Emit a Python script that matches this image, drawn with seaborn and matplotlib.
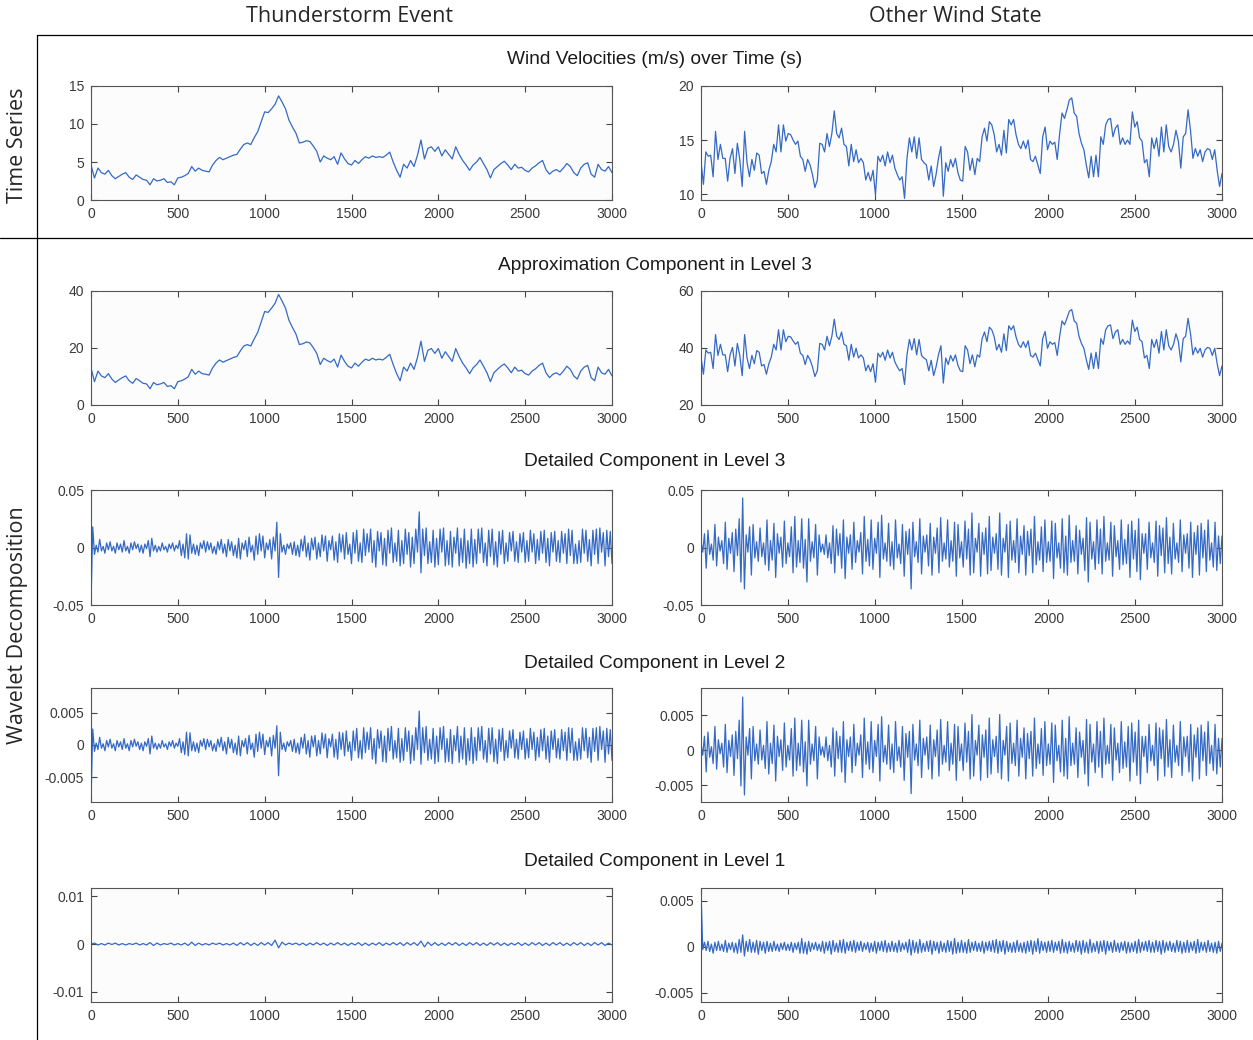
import numpy as np
import pandas as pd
import matplotlib
matplotlib.use("Agg")
import matplotlib.pyplot as plt
import seaborn as sns
from matplotlib.lines import Line2D

# ---------------- data ----------------
col_titles = ["Thunderstorm Event", "Other Wind State"]
row_titles = ["Wind Velocities (m/s) over Time (s)",
              "Approximation Component in Level 3",
              "Detailed Component in Level 3",
              "Detailed Component in Level 2",
              "Detailed Component in Level 1"]
x_ticks = [0, 500, 1000, 1500, 2000, 2500, 3000]

# wind velocity, thunderstorm (every 20 s)
ts_storm = [4.6, 2.9, 4.2, 3.6, 3.4, 3.9, 3.2, 2.8, 3.1, 3.4,
            3.6, 3.0, 2.7, 3.3, 3.0, 2.7, 2.6, 2.0, 2.8, 2.5,
            2.6, 2.8, 2.3, 2.4, 2.0, 2.9, 3.0, 3.2, 3.5, 4.4,
            3.8, 4.2, 3.9, 3.8, 3.7, 4.6, 5.2, 5.6, 5.3, 5.5,
            5.7, 5.9, 6.0, 6.7, 7.3, 7.5, 7.3, 8.2, 9.0, 10.3,
            11.6, 11.5, 12.0, 12.6, 13.7, 12.9, 12.0, 10.5, 9.6, 8.8,
            7.5, 7.6, 7.8, 7.7, 7.1, 6.4, 5.0, 5.8, 5.5, 5.3,
            5.7, 4.7, 6.2, 5.4, 4.8, 4.6, 5.2, 4.8, 5.3, 5.7,
            5.5, 5.8, 5.6, 5.7, 5.6, 5.9, 6.3, 5.0, 3.9, 3.0,
            4.7, 4.2, 5.2, 4.4, 5.9, 7.9, 5.4, 6.8, 7.0, 6.4,
            7.0, 5.8, 6.6, 6.0, 5.4, 7.0, 6.0, 5.2, 4.6, 3.9,
            4.6, 5.0, 5.6, 4.8, 4.0, 2.9, 4.0, 4.4, 4.8, 5.1,
            4.6, 4.0, 4.7, 4.2, 4.3, 3.9, 3.7, 4.2, 4.5, 4.9,
            5.2, 4.0, 3.4, 3.8, 4.0, 3.7, 4.2, 4.8, 4.4, 3.6,
            3.2, 4.2, 4.7, 4.9, 3.4, 3.0, 4.7, 4.0, 3.8, 4.4,
            3.6]

# wind velocity, other wind state (about every 14 s)
ts_other = [13.0, 10.9, 13.9, 13.5, 13.6, 11.6, 15.8, 13.2, 14.6, 13.3,
            13.3, 11.2, 13.3, 14.2, 11.9, 14.7, 13.2, 10.7, 15.8, 12.9,
            11.6, 13.2, 12.2, 13.8, 13.6, 11.9, 12.1, 10.9, 12.2, 13.0, 14.6,
            13.9, 16.4, 13.9, 16.4, 14.9, 15.6, 15.5, 15.0, 14.6, 14.9,
            13.5, 13.2, 12.1, 13.2, 12.7, 11.8, 10.6, 11.3, 14.7, 14.6,
            13.9, 15.6, 14.4, 15.6, 17.7, 15.6, 15.2, 16.1, 14.6, 14.4,
            12.6, 14.6, 13.0, 14.1, 12.9, 13.3, 12.9, 11.3, 12.0, 11.2, 12.2,
            9.9, 13.5, 13.0, 13.6, 12.6, 13.9, 12.9, 13.6, 12.4, 11.8,
            11.3, 11.6, 9.6, 13.3, 15.2, 13.9, 15.3, 13.3, 15.2, 13.2,
            12.9, 12.7, 11.3, 12.6, 10.7, 11.8, 13.3, 14.4, 9.8, 12.9,
            12.1, 13.2, 12.5, 13.3, 12.0, 11.3,
            11.2, 14.4, 13.9, 12.2, 13.3, 11.8, 13.3, 13.0, 15.3, 16.1,
            14.9, 16.7, 16.4, 15.5, 13.9, 14.6, 13.6, 15.9, 13.8, 16.9,
            16.4, 16.9, 15.5, 14.6, 14.2, 14.9, 14.2, 15.0, 13.2,
            13.0, 13.5, 12.7, 11.9, 15.3, 16.2, 14.1, 14.9, 14.6, 14.8,
            13.2, 15.6, 17.5, 17.0, 17.8, 18.7, 18.9, 17.5, 17.2, 15.6,
            14.7, 14.1, 12.7, 11.5, 13.5, 11.6, 13.6, 11.6, 15.3, 14.6,
            16.4, 16.9, 17.0, 15.3, 16.1, 16.4, 14.6, 15.2, 14.6,
            15.0, 14.6, 17.6, 16.2, 16.7, 15.2, 14.9, 12.9, 13.2, 11.6,
            15.2, 14.2, 15.2, 13.5, 16.2, 13.9, 16.4, 14.4, 13.9, 14.6,
            15.9, 14.9, 12.4, 15.3, 15.6, 17.8, 15.9, 13.3, 14.2,
            13.5, 14.1, 13.0, 13.9, 14.2, 14.1, 13.2, 14.1, 12.2,
            10.7, 11.9]

# approximation component, level 3
approx_storm = [13.0, 8.2, 11.9, 10.2, 9.6, 11.0, 9.1, 7.9, 8.8, 9.6,
                10.2, 8.5, 7.6, 9.3, 8.5, 7.6, 7.4, 5.7, 7.9, 7.1,
                7.4, 7.9, 6.5, 6.8, 5.7, 8.2, 8.5, 9.1, 9.9, 12.5,
                10.8, 11.9, 11.0, 10.8, 10.5, 13.0, 14.7, 15.8, 15.0, 15.6,
                16.1, 16.7, 17.0, 19.0, 20.7, 21.2, 20.7, 23.2, 25.5, 29.1,
                32.8, 32.5, 34.0, 35.7, 38.8, 36.5, 34.0, 29.7, 27.2, 24.9,
                21.2, 21.5, 22.1, 21.8, 20.1, 18.1, 14.2, 16.4, 15.6, 15.0,
                16.1, 13.3, 17.5, 15.3, 13.6, 13.0, 14.7, 13.6, 15.0, 16.1,
                15.6, 16.4, 15.8, 16.1, 15.8, 16.7, 17.8, 14.2, 11.0, 8.5,
                13.3, 11.9, 14.7, 12.5, 16.7, 22.4, 15.3, 19.2, 19.8, 18.1,
                19.8, 16.4, 18.7, 17.0, 15.3, 19.8, 17.0, 14.7, 13.0, 11.0,
                13.0, 14.2, 15.8, 13.6, 11.3, 8.2, 11.3, 12.5, 13.6, 14.4,
                13.0, 11.3, 13.3, 11.9, 12.2, 11.0, 10.5, 11.9, 12.7, 13.9,
                14.7, 11.3, 9.6, 10.8, 11.3, 10.5, 11.9, 13.6, 12.5, 10.2,
                9.1, 11.9, 13.3, 13.9, 9.6, 8.5, 13.3, 11.3, 10.8, 12.5,
                10.2]

approx_other = [36.8, 30.8, 39.3, 38.2, 38.5, 32.8, 44.7, 37.4, 41.3, 37.6,
                37.6, 31.7, 37.6, 40.2, 33.7, 41.6, 37.4, 30.3, 44.7, 36.5,
                32.8, 37.4, 34.5, 39.1, 38.5, 33.7, 34.2, 30.8, 34.5, 36.8, 41.3,
                39.3, 46.4, 39.3, 46.4, 42.2, 44.1, 43.9, 42.5, 41.3, 42.2,
                38.2, 37.4, 34.2, 37.4, 35.9, 33.4, 30.0, 32.0, 41.6, 41.3,
                39.3, 44.1, 40.8, 44.1, 50.1, 44.1, 43.0, 45.6, 41.3, 40.8,
                35.7, 41.3, 36.8, 39.9, 36.5, 37.6, 36.5, 32.0, 34.0, 31.7, 34.5,
                28.0, 38.2, 36.8, 38.5, 35.7, 39.3, 36.5, 38.5, 35.1, 33.4,
                32.0, 32.8, 27.2, 37.6, 43.0, 39.3, 43.3, 37.6, 43.0, 37.4,
                36.5, 35.9, 32.0, 35.7, 30.3, 33.4, 37.6, 40.8, 27.7, 36.5,
                34.2, 37.4, 35.4, 37.6, 34.0, 32.0,
                31.7, 40.8, 39.3, 34.5, 37.6, 33.4, 37.6, 36.8, 43.3, 45.6,
                42.2, 47.3, 46.4, 43.9, 39.3, 41.3, 38.5, 45.0, 39.1, 47.8,
                46.4, 47.8, 43.9, 41.3, 40.2, 42.2, 40.2, 42.5, 37.4,
                36.8, 38.2, 35.9, 33.7, 43.3, 45.8, 39.9, 42.2, 41.3, 41.9,
                37.4, 44.1, 49.5, 48.1, 50.4, 52.9, 53.5, 49.5, 48.7, 44.1,
                41.6, 39.9, 35.9, 32.5, 38.2, 32.8, 38.5, 32.8, 43.3, 41.3,
                46.4, 47.8, 48.1, 43.3, 45.6, 46.4, 41.3, 43.0, 41.3,
                42.5, 41.3, 49.8, 45.8, 47.3, 43.0, 42.2, 36.5, 37.4, 32.8,
                43.0, 40.2, 43.0, 38.2, 45.8, 39.3, 46.4, 40.8, 39.3, 41.3,
                45.0, 42.2, 35.1, 43.3, 44.1, 50.4, 45.0, 37.6, 40.2,
                38.2, 39.9, 36.8, 39.3, 40.2, 39.9, 37.4, 39.9, 34.5,
                30.3, 33.7]

# detailed component, level 3 (every 10 s)
d3_storm = [-.05, .018, -.006, .002, -.004, .007, -.003, .001, -.005, .004,
            -.002, .005, -.003, .001, -.005, .004, -.002, .003, -.004, .006,
            -.003, .001, -.005, .004, -.002, .005, -.001, .003, -.004, .002,
            -.005, .003, -.001, .006, -.008, .008, -.003, .002, -.004, .001,
            -.003, .004, -.002, .001, -.004, .003, -.001, .004, -.003, .002,
            -.001, .006, -.007, .003, -.009, .012, -.01, .011, -.005, .003,
            -.006, .002, -.007, .004, -.001, .006, -.004, .005, -.002, .004,
            -.005, .001, -.006, .005, -.002, .007, -.005, .003, -.008, .007,
            -.003, .005, -.007, .002, -.009, .008, -.01, .004, -.002, .006,
            -.008, .009, -.004, .002, -.011, .01, -.006, .012, -.003, .01,
            -.009, .004, -.002, .007, -.01, .009, -.003, .022, -.026, .012,
            -.004, .002, -.006, .003, -.001, .004, -.006, .005, -.007, .002,
            -.008, .007, -.003, .01, -.008, .004, -.011, .008, -.002, .009,
            -.01, .004, -.008, .011, -.003, .01, -.012, .006, -.002, .01,
            -.011, .005, -.013, .012, -.004, .011, -.01, .013, -.006, .003,
            -.014, .013, -.005, .015, -.012, .004, -.013, .016, -.007, .012,
            -.004, .016, -.013, .006, -.017, .014, -.003, .013, -.015, .008,
            -.016, .015, -.005, .017, -.013, .004, -.012, .015, -.016, .006,
            -.014, .016, -.006, .013, -.017, .009, -.014, .016, -.004, .031,
            -.022, .016, -.007, .017, -.014, .005, -.013, .015, -.017, .008,
            -.015, .016, -.004, .017, -.016, .006, -.015, .014, -.017, .009,
            -.005, .017, -.016, .008, -.013, .016, -.018, .006, -.014, .016,
            -.017, .007, -.014, .016, -.005, .017, -.013, .004, -.016, .015,
            -.008, .016, -.015, .005, -.017, .014, -.006, .015, -.014, .004,
            -.012, .013, -.003, .014, -.012, .005, -.013, .012, -.004, .013,
            -.013, .006, -.012, .015, -.004, .012, -.014, .007, -.011, .014,
            -.005, .015, -.013, .008, -.016, .013, -.004, .014, -.012, .006,
            -.013, .014, -.005, .012, -.014, .016, -.007, .015, -.014, .003,
            -.014, .006, -.013, .016, -.005, .015, -.012, .007, -.016, .015,
            -.006, .016, -.014, .017, -.004, .013, -.016, .015, -.008, .014,
            -.014]

d3_other = [.005, -.004, .012, -.018, .015, -.006, .003, -.011, .02, -.016,
            .009, -.003, .006, -.014, .022, -.019, .008, -.005, .013, -.021,
            .016, -.007, .025, -.03, .043, -.036, .011, -.004, .018, -.024,
            .02, -.009, .005, -.012, .017, -.008, .004, -.015, .024, -.02,
            .006, -.011, .021, -.026, .012, -.005, .009, -.017, .023, -.014,
            .004, -.008, .018, -.022, .027, -.017, .006, -.013, .025, -.018,
            .007, -.03, .025, -.012, .005, -.009, .02, -.024, .011, -.004,
            .003, -.006, .011, -.009, .004, -.014, .019, -.022, .016, -.007,
            .012, -.018, .024, -.027, .009, -.005, .011, -.019, .022, -.013,
            .006, -.004, .013, -.023, .027, -.012, .007, -.016, .024, -.019,
            .008, -.005, .022, -.026, .028, -.01, .004, -.012, .021, -.016,
            .005, -.019, .024, -.009, .003, -.014, .02, -.025, .014, -.006,
            .016, -.036, .022, -.008, .005, -.013, .025, -.023, .01, -.004,
            .011, -.016, .021, -.024, .009, -.005, .017, -.022, .026, -.012,
            .004, -.01, .024, -.017, .006, -.012, .022, -.025, .02, -.009,
            .005, -.017, .023, -.01, .016, -.024, .03, -.022, .008, -.004,
            .021, -.025, .013, -.006, .017, -.023, .027, -.02, .009, -.005,
            .012, -.019, .03, -.024, .008, -.004, .02, -.026, .023, -.011,
            .006, -.013, .025, -.022, .01, -.006, .019, -.024, .014, -.007,
            .016, -.022, .027, -.015, .005, -.011, .018, -.021, .024, -.013,
            .005, -.012, .023, -.027, .021, -.009, .004, -.018, .025, -.022,
            .01, -.024, .028, -.013, .006, -.012, .019, -.023, .015, -.006,
            .008, -.02, .026, -.03, .022, -.01, .005, -.019, .024, -.014,
            .016, -.023, .027, -.012, .004, -.011, .022, -.025, .019, -.008,
            .006, -.019, .024, -.015, .007, -.014, .02, -.026, .023, -.01,
            .015, -.021, .025, -.028, .012, -.005, .012, -.019, .022, -.009,
            .004, -.013, .023, -.025, .019, -.007, .017, -.022, .026, -.014,
            .009, -.023, .021, -.01, .004, -.013, .024, -.021, .011, -.005,
            .012, -.018, .022, -.026, .013, -.006, .019, -.024, .021, -.009,
            .015, -.021, .024, -.011, .004, -.017, .022, -.02, .01, -.014,
            .01]

# detailed component, level 2 (every 10 s)
d2_storm = [-.0089, .0025, -.001, .0003, -.0007, .0012, -.0005, .0002, -.0009, .0007,
            -.0003, .0009, -.0005, .0002, -.0009, .0007, -.0003, .0005, -.0007, .001,
            -.0005, .0002, -.0009, .0007, -.0003, .0009, -.0002, .0005, -.0007, .0003,
            -.0009, .0005, -.0002, .001, -.0014, .0014, -.0005, .0003, -.0007, .0002,
            -.0005, .0007, -.0003, .0002, -.0007, .0005, -.0002, .0007, -.0005, .0003,
            -.0002, .001, -.0012, .0005, -.0015, .002, -.0017, .0019, -.0009, .0005,
            -.001, .0003, -.0012, .0007, -.0002, .001, -.0007, .0009, -.0003, .0007,
            -.0009, .0002, -.001, .0009, -.0003, .0012, -.0009, .0005, -.0014, .0012,
            -.0005, .0009, -.0012, .0003, -.0015, .0014, -.0017, .0007, -.0003, .001,
            -.0014, .0015, -.0007, .0003, -.0019, .0017, -.001, .002, -.0005, .0017,
            -.0015, .0007, -.0003, .0012, -.0017, .0015, -.0005, .003, -.0048, .002,
            -.0007, .0003, -.001, .0005, -.0002, .0007, -.001, .0009, -.0012, .0003,
            -.0014, .0012, -.0005, .0017, -.0014, .0007, -.0019, .0014, -.0003, .0015,
            -.0017, .0007, -.0014, .0019, -.0005, .0017, -.002, .001, -.0003, .0017,
            -.0019, .0009, -.0022, .002, -.0007, .0019, -.0017, .0022, -.001, .0005,
            -.0024, .0022, -.0009, .0026, -.002, .0007, -.0022, .0027, -.0012, .002,
            -.0007, .0027, -.0022, .001, -.0029, .0024, -.0005, .0022, -.0026, .0014,
            -.0027, .0026, -.0009, .0029, -.0022, .0007, -.002, .0026, -.0027, .001,
            -.0024, .0027, -.001, .0022, -.0029, .0015, -.0024, .0027, -.0007, .0053,
            -.003, .0027, -.0012, .0029, -.0024, .0009, -.0022, .0026, -.0029, .0014,
            -.0026, .0027, -.0007, .0029, -.0027, .001, -.0026, .0024, -.0029, .0015,
            -.0009, .0029, -.0027, .0014, -.0022, .0027, -.0031, .001, -.0024, .0027,
            -.0029, .0012, -.0024, .0027, -.0009, .0029, -.0022, .0007, -.0027, .0026,
            -.0014, .0027, -.0026, .0009, -.0029, .0024, -.001, .0026, -.0024, .0007,
            -.002, .0022, -.0005, .0024, -.002, .0009, -.0022, .002, -.0007, .0022,
            -.0022, .001, -.002, .0026, -.0007, .002, -.0024, .0012, -.0019, .0024,
            -.0009, .0026, -.0022, .0014, -.0027, .0022, -.0007, .0024, -.002, .001,
            -.0022, .0024, -.0009, .002, -.0024, .0027, -.0012, .0026, -.0024, .0005,
            -.0024, .001, -.0022, .0027, -.0009, .0026, -.002, .0012, -.0027, .0026,
            -.001, .0027, -.0024, .0029, -.0007, .0022, -.0027, .0026, -.0014, .0024,
            -.0024]

d2_other = [.0009, -.0007, .002, -.0031, .0026, -.001, .0005, -.0019, .0034, -.0027,
            .0015, -.0005, .001, -.0024, .0037, -.0032, .0014, -.0009, .0022, -.0036,
            .0027, -.0012, .0043, -.0051, .0076, -.0064, .0019, -.0007, .0031, -.0041,
            .0034, -.0015, .0009, -.002, .0029, -.0014, .0007, -.0026, .0041, -.0034,
            .001, -.0019, .0036, -.0044, .002, -.0009, .0015, -.0029, .0039, -.0024,
            .0007, -.0014, .0031, -.0037, .0046, -.0029, .001, -.0022, .0043, -.0031,
            .0012, -.0051, .0043, -.002, .0009, -.0015, .0034, -.0041, .0019, -.0007,
            .0005, -.001, .0019, -.0015, .0007, -.0024, .0032, -.0037, .0027, -.0012,
            .002, -.0031, .0041, -.0046, .0015, -.0009, .0019, -.0032, .0037, -.0022,
            .001, -.0007, .0022, -.0039, .0046, -.002, .0012, -.0027, .0041, -.0032,
            .0014, -.0009, .0037, -.0044, .0048, -.0017, .0007, -.002, .0036, -.0027,
            .0009, -.0032, .0041, -.0015, .0005, -.0024, .0034, -.0043, .0024, -.001,
            .0027, -.0062, .0037, -.0014, .0009, -.0022, .0043, -.0039, .0017, -.0007,
            .0019, -.0027, .0036, -.0041, .0015, -.0009, .0029, -.0037, .0044, -.002,
            .0007, -.0017, .0041, -.0029, .001, -.002, .0037, -.0043, .0034, -.0015,
            .0009, -.0029, .0039, -.0017, .0027, -.0041, .0051, -.0037, .0014, -.0007,
            .0036, -.0043, .0022, -.001, .0029, -.0039, .0046, -.0034, .0015, -.0009,
            .002, -.0032, .0051, -.0041, .0014, -.0007, .0034, -.0044, .0039, -.0019,
            .001, -.0022, .0043, -.0037, .0017, -.001, .0032, -.0041, .0024, -.0012,
            .0027, -.0037, .0046, -.0026, .0009, -.0019, .0031, -.0036, .0041, -.0022,
            .0009, -.002, .0039, -.0046, .0036, -.0015, .0007, -.0031, .0043, -.0037,
            .0017, -.0041, .0048, -.0022, .001, -.002, .0032, -.0039, .0026, -.001,
            .0014, -.0034, .0044, -.0051, .0037, -.0017, .0009, -.0032, .0041, -.0024,
            .0027, -.0039, .0046, -.002, .0007, -.0019, .0037, -.0043, .0032, -.0014,
            .001, -.0032, .0041, -.0026, .0012, -.0024, .0034, -.0044, .0039, -.0017,
            .0026, -.0036, .0043, -.0048, .002, -.0009, .002, -.0032, .0037, -.0015,
            .0007, -.0022, .0039, -.0043, .0032, -.0012, .0029, -.0037, .0044, -.0024,
            .0015, -.0039, .0036, -.0017, .0007, -.0022, .0041, -.0036, .0019, -.0009,
            .002, -.0031, .0037, -.0044, .0022, -.001, .0032, -.0041, .0036, -.0015,
            .0026, -.0036, .0041, -.0019, .0007, -.0029, .0037, -.0034, .0017, -.0024,
            .0017]

# detailed component, level 1
d1_storm = [0, .0002, -.0002, .0001, -.0002, .0002, -.0001, .0002, -.0002, .0001,
            -.0002, .0001, -.0001, .0002, -.0002, .0001, -.0002, .0003, -.0003, .0002,
            -.0002, .0001, -.0001, .0002, -.0002, .0001, -.0002, .0002, -.0003, .0004,
            -.0003, .0002, -.0002, .0001, -.0002, .0002, -.0001, .0002, -.0002, .0001,
            -.0002, .0002, -.0003, .0003, -.0002, .0003, -.0003, .0002, -.0003, .0003,
            -.0002, .0003, -.0003, .0008, -.0008, .0004, -.0002, .0002, -.0001, .0002,
            -.0002, .0002, -.0003, .0002, -.0002, .0003, -.0002, .0002, -.0003, .0002,
            -.0002, .0003, -.0002, .0002, -.0003, .0002, -.0002, .0003, -.0003, .0002,
            -.0003, .0002, -.0002, .0003, -.0003, .0002, -.0002, .0003, -.0002, .0003,
            -.0003, .0003, -.0002, .0003, -.0003, .0006, -.0006, .0004, -.0003, .0003,
            -.0003, .0002, -.0003, .0003, -.0002, .0003, -.0003, .0002, -.0003, .0003,
            -.0002, .0003, -.0003, .0002, -.0003, .0003, -.0002, .0003, -.0003, .0002,
            -.0003, .0002, -.0002, .0003, -.0003, .0002, -.0003, .0003, -.0002, .0003,
            -.0003, .0002, -.0003, .0003, -.0002, .0003, -.0003, .0002, -.0003, .0003,
            -.0002, .0003, -.0003, .0002, -.0003, .0003, -.0002, .0003, -.0003, .0002,
            -.0002]

d1_other = [.0062, -.0003, .0005, -.0004, .0006, -.0005, .0003, -.0007, .0005, -.0004,
            .0006, -.0004, .0003, -.0005, .0007, -.0006, .0004, -.0003, .0005, -.0006,
            .0004, -.0007, .0008, -.0006, .0013, -.001, .0006, -.0005, .0008, -.0006,
            .0005, -.0006, .0007, -.0008, .0006, -.0004, .0005, -.0007, .0006, -.0005,
            .0004, -.0005, .0006, -.0004, .0003, -.0005, .0004, -.0003, .0005, -.0004,
            .0003, -.0004, .0005, -.0006, .0004, -.0003, .0005, -.0007, .0009, -.0007,
            .0005, -.0008, .0006, -.0005, .0004, -.0003, .0005, -.0004, .0003, -.0005,
            .0006, -.0007, .0005, -.0004, .0006, -.0008, .0007, -.0005, .0004, -.0006,
            .0007, -.0006, .0008, -.0007, .0005, -.0004, .0006, -.0005, .0007, -.0006,
            .0005, -.0004, .0006, -.0005, .0004, -.0003, .0005, -.0006, .0004, -.0005,
            .0006, -.0007, .0005, -.0004, .0006, -.0005, .0007, -.0006, .0004, -.0005,
            .0006, -.0005, .0004, -.0006, .0007, -.0005, .0004, -.0003, .0005, -.0006,
            .0008, -.0009, .0007, -.0006, .0005, -.0007, .0008, -.0006, .0004, -.0005,
            .0006, -.0005, .0007, -.0008, .0006, -.0004, .0005, -.0007, .0006, -.0005,
            .0004, -.0006, .0007, -.0005, .0006, -.0008, .0009, -.0007, .0005, -.0006,
            .0007, -.0006, .0005, -.0007, .0008, -.0006, .0005, -.0004, .0006, -.0005,
            .0004, -.0005, .0006, -.0007, .0005, -.0004, .0006, -.0005, .0007, -.0006,
            .0008, -.0007, .0006, -.0005, .0007, -.0008, .0006, -.0005, .0004, -.0006,
            .0005, -.0006, .0007, -.0005, .0004, -.0006, .0005, -.0007, .0006, -.0005,
            .0007, -.0008, .0006, -.0005, .0009, -.0007, .0006, -.0004, .0005, -.0006,
            .0006, -.0005, .0007, -.0006, .0005, -.0004, .0006, -.0007, .0008, -.0006,
            .0005, -.0007, .0006, -.0005, .0004, -.0006, .0007, -.0005, .0006, -.0008,
            .0007, -.0006, .0005, -.0007, .0008, -.0006, .0004, -.0005, .0006, -.0007,
            .0006, -.0005, .0007, -.0008, .0006, -.0004, .0005, -.0006, .0007, -.0005,
            .0004, -.0006, .0005, -.0004, .0006, -.0007, .0005, -.0006, .0004, -.0005,
            .0006, -.0007, .0008, -.0006, .0005, -.0004, .0006, -.0005, .0007, -.0006,
            .0005, -.0006, .0007, -.0005, .0006, -.0008, .0007, -.0006, .0005, -.0004,
            .0006, -.0005, .0004, -.0006, .0007, -.0005, .0006, -.0007, .0005, -.0006,
            .0007, -.0006, .0005, -.0004, .0006, -.0007, .0008, -.0006, .0005, -.0004,
            .0005, -.0006, .0007, -.0005, .0004, -.0006, .0005, -.0007, .0006, -.0005,
            .0004]

# y-axis settings per panel: (values, limits, ticks, labels)
panels = [
    [(ts_storm, (0, 15), [0, 5, 10, 15], ["0", "5", "10", "15"]),
     (ts_other, (9.45, 20), [10, 15, 20], ["10", "15", "20"])],
    [(approx_storm, (0, 40), [0, 20, 40], ["0", "20", "40"]),
     (approx_other, (20, 60), [20, 40, 60], ["20", "40", "60"])],
    [(d3_storm, (-0.05, 0.05), [-0.05, 0, 0.05], ["-0.05", "0", "0.05"]),
     (d3_other, (-0.05, 0.05), [-0.05, 0, 0.05], ["-0.05", "0", "0.05"])],
    [(d2_storm, (-0.0089, 0.0089), [-0.005, 0, 0.005], ["-0.005", "0", "0.005"]),
     (d2_other, (-0.0074, 0.0089), [-0.005, 0, 0.005], ["-0.005", "0", "0.005"])],
    [(d1_storm, (-0.0121, 0.0117), [-0.01, 0, 0.01], ["-0.01", "0", "0.01"]),
     (d1_other, (-0.006, 0.0064), [-0.005, 0, 0.005], ["-0.005", "0", "0.005"])],
]

# ---------------- drawing ----------------
sns.set_theme(style="ticks")
plt.rcParams['font.family'] = ['Liberation Sans', 'DejaVu Sans']

W, H = 1253, 1040
fig = plt.figure(figsize=(W / 100, H / 100), dpi=100)
fig.patch.set_facecolor("white")

LINE = "#3469c4"
col_left = [91, 701]
ax_w = 521
row_top = [86, 291, 490, 688, 888]
row_bot = [200, 405, 605, 802, 1002]
title_y = [59, 265, 462, 663, 861]

for r in range(5):
    for c in range(2):
        vals, ylim, yt, ytl = panels[r][c]
        ax = fig.add_axes([col_left[c] / W, 1 - row_bot[r] / H,
                           ax_w / W, (row_bot[r] - row_top[r]) / H])
        df = pd.DataFrame({"t": np.linspace(0, 3000, len(vals)), "v": vals})
        sns.lineplot(data=df, x="t", y="v", ax=ax, color=LINE,
                     linewidth=0.9, estimator=None)
        ax.set_facecolor("#fcfcfc")
        ax.set_xlim(0, 3000)
        ax.set_ylim(*ylim)
        ax.set_xticks(x_ticks, [str(v) for v in x_ticks])
        ax.set_yticks(yt, ytl)
        ax.set_xlabel("")
        ax.set_ylabel("")
        ax.tick_params(direction="in", length=4, width=0.8, color="#444444",
                       top=True, right=True, labelsize=10,
                       labelcolor="#3a3a3a", pad=5)
        for s in ax.spines.values():
            s.set_visible(True)
            s.set_color("#555555")
            s.set_linewidth(0.8)
    fig.text(655 / W, 1 - title_y[r] / H, row_titles[r], ha="center",
             va="center", fontsize=13.8, color="#1a1a1a")

hdr_font = ['Open Sans', 'DejaVu Sans']
fig.text(350 / W, 1 - 17 / H, col_titles[0], ha="center", va="center",
         fontsize=15.5, family=hdr_font)
fig.text(955 / W, 1 - 17 / H, col_titles[1], ha="center", va="center",
         fontsize=15.5, family=hdr_font)
fig.text(18 / W, 1 - 145 / H, "Time Series", ha="center", va="center",
         rotation=90, fontsize=15.5, family=hdr_font)
fig.text(18 / W, 1 - 625 / H, "Wavelet Decomposition", ha="center",
         va="center", rotation=90, fontsize=15.5, family=hdr_font)

# frame lines
x37 = 37 / W
fig.add_artist(Line2D([x37, x37], [0, 1 - 35 / H], transform=fig.transFigure,
                      color="black", linewidth=0.9))
fig.add_artist(Line2D([x37, 1], [1 - 35 / H, 1 - 35 / H],
                      transform=fig.transFigure, color="black", linewidth=0.9))
fig.add_artist(Line2D([0, 1], [1 - 238 / H, 1 - 238 / H],
                      transform=fig.transFigure, color="black", linewidth=0.9))

fig.savefig("out.png", dpi=100)
